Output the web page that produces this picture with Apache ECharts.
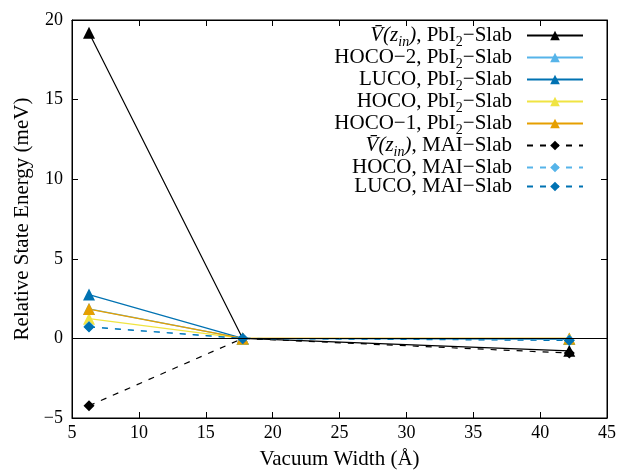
<!DOCTYPE html>
<html><head><meta charset="utf-8">
<script src="https://cdn.jsdelivr.net/npm/echarts@6/dist/echarts.min.js"></script>
<style>html,body{margin:0;padding:0;background:#fff}#c{width:619px;height:470px}</style>
</head><body><div id="c"></div>
<script>
const xVals = [6.27, 17.76, 42.18];
const vPbI2 = [19.2, 0, -0.78];
const hoco2PbI2 = [1.85, 0, -0.02];
const lucoPbI2 = [2.75, 0, -0.04];
const hocoPbI2 = [1.24, 0, 0.0];
const hoco1PbI2 = [1.84, 0, 0.0];
const vMAI = [-4.23, 0, -0.92];
const hocoMAI = [0.74, 0, -0.1];
const lucoMAI = [0.72, 0, -0.13];
const xTicks = [5, 10, 15, 20, 25, 30, 35, 40, 45];
const yTicks = [-5, 0, 5, 10, 15, 20];

const FONT = 'Liberation Serif';
const seriesDefs = [
  {key:'vP', label:'{it|V\u0304(z}{itsub|in}{it|)}, PbI{sub|2}\u2212Slab', data:vPbI2, color:'#000000', symbol:'triangle', dash:false},
  {key:'h2P', label:'HOCO\u22122, PbI{sub|2}\u2212Slab', data:hoco2PbI2, color:'#56b4e9', symbol:'triangle', dash:false},
  {key:'lP', label:'LUCO, PbI{sub|2}\u2212Slab', data:lucoPbI2, color:'#0072b2', symbol:'triangle', dash:false},
  {key:'hP', label:'HOCO, PbI{sub|2}\u2212Slab', data:hocoPbI2, color:'#f0e442', symbol:'triangle', dash:false},
  {key:'h1P', label:'HOCO\u22121, PbI{sub|2}\u2212Slab', data:hoco1PbI2, color:'#e69f00', symbol:'triangle', dash:false},
  {key:'vM', label:'{it|V\u0304(z}{itsub|in}{it|)}, MAI\u2212Slab', data:vMAI, color:'#000000', symbol:'diamond', dash:true},
  {key:'hM', label:'HOCO, MAI\u2212Slab', data:hocoMAI, color:'#56b4e9', symbol:'diamond', dash:true},
  {key:'lM', label:'LUCO, MAI\u2212Slab', data:lucoMAI, color:'#0072b2', symbol:'diamond', dash:true}
];
const labelMap = {};
seriesDefs.forEach(d => labelMap[d.key] = d.label);

const chart = echarts.init(document.getElementById('c'));
const minusFmt = v => String(v).replace('-', '\u2212');
const axisCommon = {
  interval: 5,
  axisLine: {show: true, onZero: false, lineStyle: {color: '#000', width: 1}},
  axisTick: {show: true, inside: true, length: 6, lineStyle: {color: '#000'}},
  splitLine: {show: false}
};
const series = seriesDefs.map((d, i) => {
  const s = {
    name: d.key,
    type: 'line',
    data: xVals.map((x, j) => [x, d.data[j]]),
    symbol: d.symbol,
    symbolSize: d.symbol === 'triangle' ? 12 : 11,
    color: d.color,
    lineStyle: {color: d.color, width: 1.2, type: d.dash ? [6, 7] : 'solid'},
    itemStyle: {color: d.color},
    emphasis: {disabled: true},
    animation: false
  };
  if (i === 0) {
    s.markLine = {silent: true, symbol: 'none', label: {show: false},
      lineStyle: {color: '#000', type: 'solid', width: 1}, data: [{yAxis: 0}], animation: false};
  }
  return s;
});

chart.setOption({
  animation: false,
  grid: {left: 72, right: 12, top: 20, bottom: 52, show: true, borderColor: '#000', borderWidth: 1,
    containLabel: false, outerBoundsMode: 'none'},
  xAxis: [
    Object.assign({}, axisCommon, {type: 'value', position: 'bottom', min: xTicks[0], max: xTicks[xTicks.length-1],
      name: 'Vacuum Width (\u00c5)', nameLocation: 'middle', nameGap: 31,
      nameTextStyle: {fontFamily: FONT, fontSize: 21, color: '#000'},
      axisLabel: {fontFamily: FONT, fontSize: 18, color: '#000', margin: 6, formatter: minusFmt}}),
    Object.assign({}, axisCommon, {type: 'value', position: 'top', min: xTicks[0], max: xTicks[xTicks.length-1],
      axisLabel: {show: false}})
  ],
  yAxis: [
    Object.assign({}, axisCommon, {type: 'value', position: 'left', min: yTicks[0], max: yTicks[yTicks.length-1],
      name: 'Relative State Energy (meV)', nameLocation: 'middle', nameGap: 37,
      nameTextStyle: {fontFamily: FONT, fontSize: 21, color: '#000'},
      axisLabel: {fontFamily: FONT, fontSize: 18, color: '#000', margin: 9, formatter: minusFmt}}),
    Object.assign({}, axisCommon, {type: 'value', position: 'right', min: yTicks[0], max: yTicks[yTicks.length-1],
      axisLabel: {show: false}})
  ],
  legend: {
    orient: 'vertical', right: 30, top: 20, align: 'right',
    itemWidth: 56, itemHeight: 12, itemGap: -2,
    data: seriesDefs.map(d => d.key),
    formatter: name => labelMap[name],
    selectedMode: false,
    textStyle: {
      fontFamily: FONT, fontSize: 21, lineHeight: 21, color: '#000', padding: [0, 10, 0, 0],
      rich: {
        it: {fontFamily: FONT, fontSize: 21, lineHeight: 21, fontStyle: 'italic', color: '#000'},
        itsub: {fontFamily: FONT, fontSize: 14, lineHeight: 21, fontStyle: 'italic', color: '#000', padding: [10, 0, -3, 0]},
        sub: {fontFamily: FONT, fontSize: 14, lineHeight: 21, color: '#000', padding: [10, 0, -3, 0]}
      }
    }
  },
  series: series
});
</script></body></html>
